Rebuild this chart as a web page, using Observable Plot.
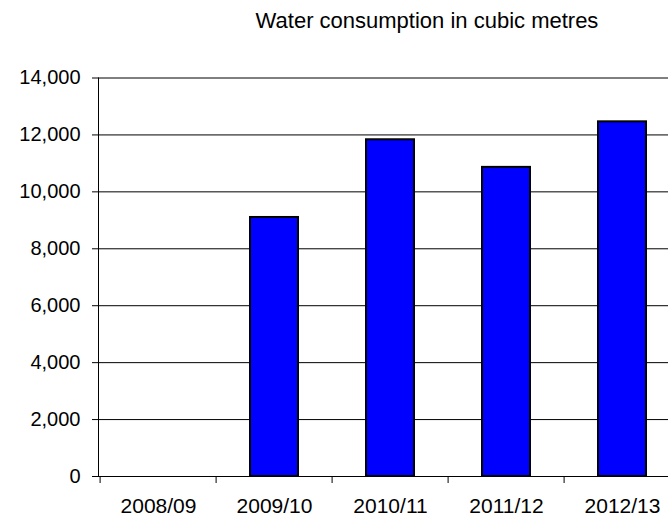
<!DOCTYPE html>
<html>
<head>
<meta charset="utf-8">
<script src="https://cdn.jsdelivr.net/npm/d3@7"></script>
<script src="https://cdn.jsdelivr.net/npm/@observablehq/plot@0.6"></script>
<style>
  html, body { margin: 0; padding: 0; background: #fff; overflow: hidden; }
  #wrap { width: 668px; height: 519px; position: relative; }
  #title {
    width: 854px; height: 40px; box-sizing: border-box; padding-top: 8px;
    text-align: center; font-family: "Liberation Sans", Arial, sans-serif;
    font-size: 22px; line-height: normal; color: #000; white-space: nowrap;
  }
</style>
</head>
<body>
<div id="wrap">
  <div id="title">Water consumption in cubic metres</div>
  <div id="chart"></div>
</div>
<script>
// Annual water use by financial year (cubic metres); 2008/09 has no reading
const years = ["2008/09", "2009/10", "2010/11", "2011/12", "2012/13"];
const consumption = [null, 9100, 11830, 10860, 12460];
const yTicks = [0, 2000, 4000, 6000, 8000, 10000, 12000, 14000];

const data = years.map((year, i) => ({year, value: consumption[i]}));

const xRange = [98, 682];
const step = (xRange[1] - xRange[0]) / years.length;
const thousands = d3.format(",");

const chart = Plot.plot({
  width: 668,
  height: 479,
  marginLeft: 98,
  marginRight: 0,
  marginTop: 37.5,
  marginBottom: 43,
  style: {fontFamily: "'Liberation Sans', Arial, sans-serif", fontSize: "20px", color: "#000", background: "#fff"},
  x: {domain: years, range: xRange, paddingInner: 0.59, paddingOuter: 0.295, label: null},
  y: {domain: [0, 14000], label: null},
  marks: [
    Plot.gridY(yTicks, {stroke: "#000", strokeOpacity: 1}),
    Plot.barY(data, {x: "year", y: "value", fill: "#0000ff", stroke: "#000", strokeWidth: 2}),
    Plot.frame({anchor: "left", stroke: "#000"}),
    Plot.ruleY([0], {stroke: "#000"}),
    Plot.axisY(yTicks, {tickSize: 6, tickPadding: 12, tickFormat: thousands, fontSize: 20, label: null}),
    Plot.axisX({tickSize: 0, tickPadding: 22, fontSize: 21, label: null}),
    // category separators below the baseline
    Plot.axisX({tickSize: 7, dx: -step / 2, tickFormat: () => "", label: null})
  ]
});

document.getElementById("chart").appendChild(chart);
</script>
</body>
</html>
